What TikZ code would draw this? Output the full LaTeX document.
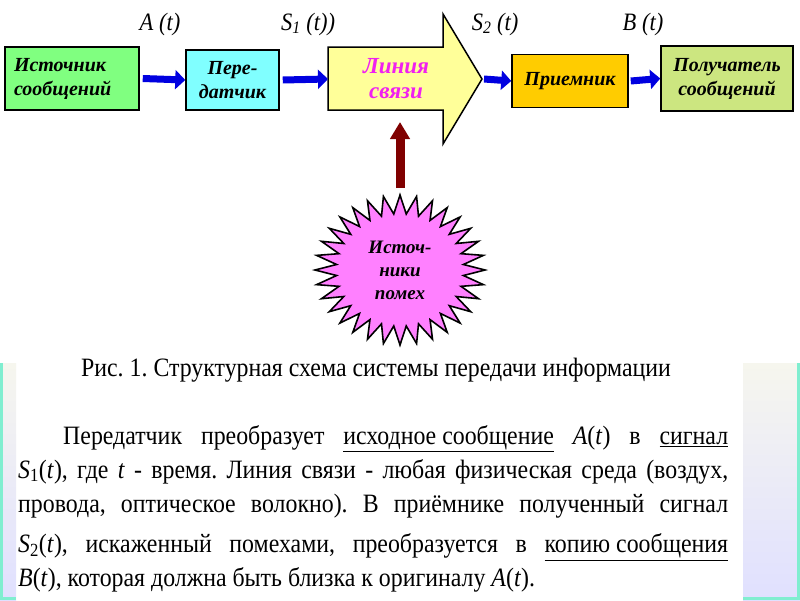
\documentclass[tikz,border=0pt]{standalone}
\usepackage{fontspec}
\usepackage{tikz}
\usetikzlibrary{arrows.meta,calc}
\setmainfont{Liberation Serif}
\newfontfamily\tnr[FakeStretch=0.9]{Liberation Serif}
\newfontfamily\boxfont{Liberation Serif}
\definecolor{src_green}{HTML}{80FF80}
\definecolor{tx_cyan}{HTML}{80FFFF}
\definecolor{line_yellow}{HTML}{FFFF99}
\definecolor{rx_orange}{HTML}{FFCC00}
\definecolor{dst_green}{HTML}{CCE680}
\definecolor{noise_pink}{HTML}{FF80FF}
\definecolor{link_magenta}{HTML}{F020F0}
\definecolor{arrow_blue}{HTML}{0000E0}
\definecolor{arrow_red}{HTML}{800000}
\definecolor{strip_teal}{HTML}{80EED0}
\definecolor{strip_top}{HTML}{F6F6EE}
\definecolor{strip_lav}{HTML}{E0E0FF}

\begin{document}
\frenchspacing
\begin{tikzpicture}[x=1pt,y=-1pt,
    block/.style={draw=black,line width=1.5pt,align=center,inner sep=0pt,
        font=\boxfont\bfseries\itshape\fontsize{20}{24}\selectfont},
    flow/.style={arrow_blue,line width=7pt,-{Triangle[length=10pt,width=19pt]}},
    noiseflow/.style={arrow_red,line width=9pt,-{Triangle[length=17pt,width=19pt]}},
    siglabel/.style={font=\tnr\itshape\fontsize{25}{28}\selectfont}]

    \useasboundingbox (0,0) rectangle (800,600);
    \fill[white] (0,0) rectangle (800,600);

    % side strips
    \shade[top color=strip_top,bottom color=strip_lav] (0,363) rectangle (16,600);
    \shade[top color=strip_top,bottom color=strip_lav] (743,363) rectangle (800,600);
    \draw[strip_teal,line width=3pt] (1.5,363) -- (1.5,600);
    \draw[strip_teal,line width=3pt] (798.5,363) -- (798.5,600);
    \draw[strip_teal,line width=3pt] (0,598.5) -- (16,598.5);
    \draw[strip_teal,line width=3pt] (743,598.5) -- (800,598.5);

    \node[block,fill=src_green,minimum width=134pt,minimum height=63pt,
          text width=116pt,align=left] (src) at (72,78.5)
         {Источник\\сообщений};
    \node[block,fill=tx_cyan,minimum width=93pt,minimum height=60pt] (tx)
         at (232.5,80) {Пере-\\датчик};

    \draw[block,fill=line_yellow] (328,47) -- (443,47) -- (443,14)
         -- (482,79) -- (443,144) -- (443,110) -- (328,110) -- cycle;
    \node[block,draw=none,text=link_magenta,
          font=\boxfont\bfseries\itshape\fontsize{23}{25}\selectfont] (link)
         at (396,79) {Линия\\связи};
    \coordinate (link_in) at (328,79);
    \coordinate (link_tip) at (482,79);
    \coordinate (link_bottom) at (400,122);

    \node[block,fill=rx_orange,minimum width=116pt,minimum height=53pt] (rx)
         at (570,81) {Приемник};
    \node[block,fill=dst_green,minimum width=132pt,minimum height=65pt] (dst)
         at (727,78.5) {Получатель\\сообщений};

    \draw[flow] ([xshift=3pt]src.east) -- (tx.west);
    \draw[flow] ([xshift=3pt]tx.east) -- (link_in);
    \draw[flow] ([xshift=2pt]link_tip) -- (rx.west);
    \draw[flow] ([xshift=2pt]rx.east) -- (dst.west);

    \node[siglabel] (lab_a) at (160,24) {A (t)};
    \node[siglabel] (lab_s1) at (308,24) {S\textsubscript{1} (t))};
    \node[siglabel] (lab_s2) at (495,24) {S\textsubscript{2} (t)};
    \node[siglabel] (lab_b) at (643,24) {B (t)};

    % noise source
    \draw[line width=1.6pt,fill=noise_pink] (485,270)
        \foreach \k [evaluate=\k as \rr using {1-0.25*mod(\k,2)}] in {1,...,63}
        { -- ({400+85*\rr*cos(\k*5.625)},{270+75*\rr*sin(\k*5.625)}) } -- cycle;
    \node[block,draw=none,font=\boxfont\bfseries\itshape\fontsize{19}{23}\selectfont]
         (noise) at (400,270) {Источ-\\ники\\помех};
    \coordinate (noise_top) at (400,188);
    \draw[noiseflow] (noise_top) -- (link_bottom);

    \node[font=\tnr\fontsize{26.5}{30}\selectfont] (caption) at (376,370)
         {Рис. 1. Структурная схема системы передачи информации};

    \node[anchor=north west,text width=710pt,align=justify,inner sep=0pt,
          font=\tnr\fontsize{26.5}{34}\selectfont] (body) at (18,425)
    {\hspace*{45pt}Передатчик преобразует \underline{исходное сообщение}
     \textit{A}(\textit{t}) в \underline{сигнал}\linebreak
     \textit{S}\textsubscript{1}(\textit{t}), где \textit{t} - время. Линия
     связи - любая физическая среда (воздух,\linebreak
     провода, оптическое волокно). В приёмнике полученный сигнал\linebreak
     \rule{0pt}{34pt}\textit{S}\textsubscript{2}(\textit{t}), искаженный помехами,
     преобразуется в \underline{копию сообщения}\linebreak
     \textit{B}(\textit{t}), которая должна быть близка к оригиналу
     \textit{A}(\textit{t}).};

\end{tikzpicture}
\end{document}
